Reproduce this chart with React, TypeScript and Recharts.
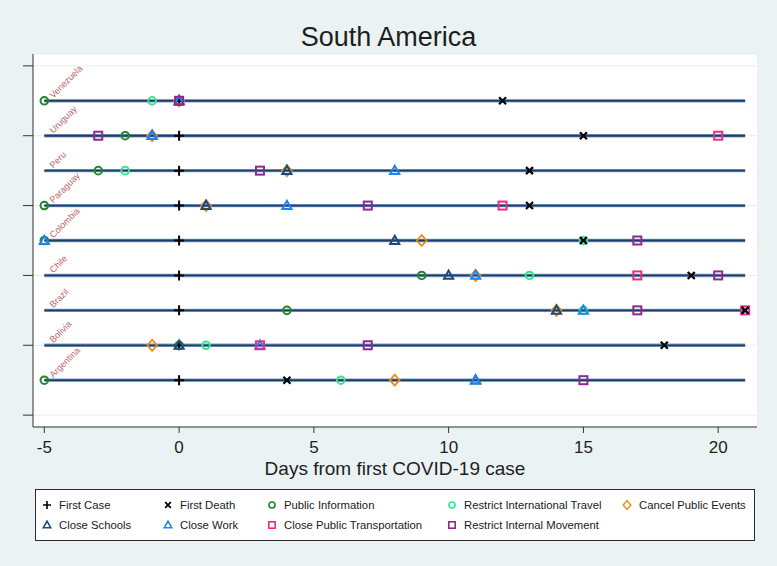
import React from 'react';
import { ScatterChart, Scatter, XAxis, YAxis, CartesianGrid } from 'recharts';

const countries = ['Argentina', 'Bolivia', 'Brazil', 'Chile', 'Colombia', 'Paraguay', 'Peru', 'Uruguay', 'Venezuela'];
const countryRows = [1, 2, 3, 4, 5, 6, 7, 8, 9];
const dayRange = [-5, 21];
const xTicks = [-5, 0, 5, 10, 15, 20];
const yTicks = [0, 2, 4, 6, 8, 10];

// days from first case, one entry per country (same order as countries)
const firstCase = [0, 0, 0, 0, 0, 0, 0, 0, 0];
const firstDeath = [4, 18, 21, 19, 15, 13, 13, 15, 12];
const publicInformation = [-5, 0, 4, 9, -5, -5, -3, -2, -5];
const restrictIntlTravel = [6, 1, 15, 13, 15, null, -2, null, -1];
const cancelPublicEvents = [8, -1, 14, 11, 9, 1, 4, -1, 0];
const closeSchools = [11, 0, 14, 10, 8, 1, 4, -1, 0];
const closeWork = [11, 3, 15, 11, -5, 4, 8, -1, 0];
const closePublicTransport = [null, 3, 21, 17, null, 12, null, 20, null];
const restrictInternalMovement = [15, 7, 17, 20, 17, 7, 3, -3, 0];

type Kind = 'plus' | 'cross' | 'circle' | 'diamond' | 'triangle' | 'square';

const measures: { name: string; values: (number | null)[]; kind: Kind; color: string }[] = [
    { name: 'First Case', values: firstCase, kind: 'plus', color: '#000000' },
    { name: 'First Death', values: firstDeath, kind: 'cross', color: '#000000' },
    { name: 'Public Information', values: publicInformation, kind: 'circle', color: '#1f8a24' },
    { name: 'Restrict International Travel', values: restrictIntlTravel, kind: 'circle', color: '#2eea8c' },
    { name: 'Cancel Public Events', values: cancelPublicEvents, kind: 'diamond', color: '#ec8a16' },
    { name: 'Close Schools', values: closeSchools, kind: 'triangle', color: '#1d4a76' },
    { name: 'Close Work', values: closeWork, kind: 'triangle', color: '#1c84ee' },
    { name: 'Close Public Transportation', values: closePublicTransport, kind: 'square', color: '#f0288c' },
    { name: 'Restrict Internal Movement', values: restrictInternalMovement, kind: 'square', color: '#92278f' },
];

// first death is drawn on top of everything else
const drawOrder = [0, 2, 3, 4, 5, 6, 7, 8, 1];

const font = '"Liberation Sans", Arial, sans-serif';

function Marker({ kind, color, cx, cy, s = 1 }: { kind: Kind; color: string; cx: number; cy: number; s?: number }) {
    const sw = 2 * s;
    switch (kind) {
        case 'plus': {
            const a = 5 * s;
            return <path d={`M${cx - a},${cy}H${cx + a}M${cx},${cy - a}V${cy + a}`} stroke={color} strokeWidth={sw} fill="none" />;
        }
        case 'cross': {
            const a = 3.5 * s;
            return <path d={`M${cx - a},${cy - a}L${cx + a},${cy + a}M${cx - a},${cy + a}L${cx + a},${cy - a}`} stroke={color} strokeWidth={2.2 * s} fill="none" />;
        }
        case 'circle':
            return <circle cx={cx} cy={cy} r={3.8 * s} stroke={color} strokeWidth={sw} fill="none" />;
        case 'diamond': {
            const w = 4.8 * s;
            const h = 5.5 * s;
            return <path d={`M${cx},${cy - h}L${cx + w},${cy}L${cx},${cy + h}L${cx - w},${cy}Z`} stroke={color} strokeWidth={1.8 * s} fill="none" />;
        }
        case 'triangle': {
            const w = 4.6 * s;
            return <path d={`M${cx},${cy - 4.8 * s}L${cx + w},${cy + 3.4 * s}L${cx - w},${cy + 3.4 * s}Z`} stroke={color} strokeWidth={sw} strokeLinejoin="miter" fill="none" />;
        }
        case 'square': {
            const a = 4 * s;
            return <rect x={cx - a} y={cy - a} width={2 * a} height={2 * a} stroke={color} strokeWidth={sw} fill="none" />;
        }
    }
    return null;
}

function seriesData(values: (number | null)[]) {
    return values
        .map((v, i) => (v === null ? null : { x: v, y: countryRows[i] }))
        .filter((d) => d !== null) as { x: number; y: number }[];
}

function countryLineData(i: number) {
    return [
        { x: dayRange[0], y: countryRows[i], label: countries[i] },
        { x: dayRange[1], y: countryRows[i] },
    ];
}

function CountryLabel(props: any) {
    const p = props.payload;
    if (!p || !p.label) return <g />;
    const x = props.cx + 9;
    const y = props.cy - 2;
    return (
        <text x={x} y={y} transform={`rotate(-45, ${x}, ${y})`} fontSize={9} fontFamily={font} fill="#c0626a">
            {p.label}
        </text>
    );
}

const legendCols = [38, 159, 263, 443, 618];

function LegendBox() {
    return (
        <div
            style={{
                position: 'absolute',
                left: 35,
                top: 489,
                width: 720,
                height: 52,
                background: '#ffffff',
                border: '1px solid #2b2b2b',
                boxSizing: 'border-box',
                fontFamily: font,
                fontSize: 11.3,
                color: '#1a1a1a',
            }}
        >
            {measures.map((m, i) => {
                const row = i < 5 ? 0 : 1;
                const col = i < 5 ? i : i - 5;
                return (
                    <div key={m.name} style={{ position: 'absolute', left: legendCols[col] - 35 + 2, top: 8 + row * 20, display: 'flex', alignItems: 'center', whiteSpace: 'nowrap' }}>
                        <svg width={12} height={14} style={{ marginRight: 6 }}>
                            <Marker kind={m.kind} color={m.color} cx={6} cy={7} s={0.8} />
                        </svg>
                        <span>{m.name}</span>
                    </div>
                );
            })}
        </div>
    );
}

export default function App() {
    return (
        <div style={{ position: 'absolute', left: 0, top: 0, width: 777, height: 566, background: '#eaf2f3', fontFamily: font }}>
            <div style={{ position: 'absolute', left: 0, top: 22, width: 777, textAlign: 'center', fontSize: 27, lineHeight: '30px', color: '#1e1e1e' }}>
                South America
            </div>
            <ScatterChart width={777} height={566} margin={{ top: 54, right: 20, left: 0, bottom: 87 }}>
                <CartesianGrid horizontal vertical={false} stroke="#e4eef0" fill="#ffffff" fillOpacity={1} />
                <XAxis
                    type="number"
                    dataKey="x"
                    domain={[-5.42, 21.44]}
                    ticks={xTicks}
                    interval={0}
                    height={52}
                    tickSize={6}
                    tickMargin={8}
                    axisLine={{ stroke: '#333333' }}
                    tickLine={{ stroke: '#333333' }}
                    tick={{ fontSize: 17, fill: '#1e1e1e', fontFamily: font }}
                    label={{ value: 'Days from first COVID-19 case', position: 'insideBottom', offset: 4, fontSize: 19, fill: '#1e1e1e', fontFamily: font }}
                />
                <YAxis
                    type="number"
                    dataKey="y"
                    domain={[-0.34, 10.34]}
                    ticks={yTicks}
                    interval={0}
                    width={33}
                    tickSize={10}
                    tick={() => <g />}
                    axisLine={{ stroke: '#333333' }}
                    tickLine={{ stroke: '#333333' }}
                />
                {countries.map((c, i) => (
                    <Scatter
                        key={c + '-halo'}
                        data={countryLineData(i)}
                        fill="none"
                        line={{ stroke: '#7e9ec2', strokeWidth: 3.4 }}
                        lineType="joint"
                        shape={(p: any) => <CountryLabel {...p} />}
                        isAnimationActive={false}
                    />
                ))}
                {countries.map((c, i) => (
                    <Scatter
                        key={c + '-line'}
                        data={countryLineData(i)}
                        fill="none"
                        line={{ stroke: '#1d3f66', strokeWidth: 1.8 }}
                        lineType="joint"
                        shape={() => <g />}
                        isAnimationActive={false}
                    />
                ))}
                {drawOrder.map((mi) => {
                    const m = measures[mi];
                    return (
                        <Scatter
                            key={m.name}
                            name={m.name}
                            data={seriesData(m.values)}
                            fill={m.color}
                            shape={(p: any) => <Marker kind={m.kind} color={m.color} cx={p.cx} cy={p.cy} />}
                            isAnimationActive={false}
                        />
                    );
                })}
            </ScatterChart>
            <LegendBox />
        </div>
    );
}
